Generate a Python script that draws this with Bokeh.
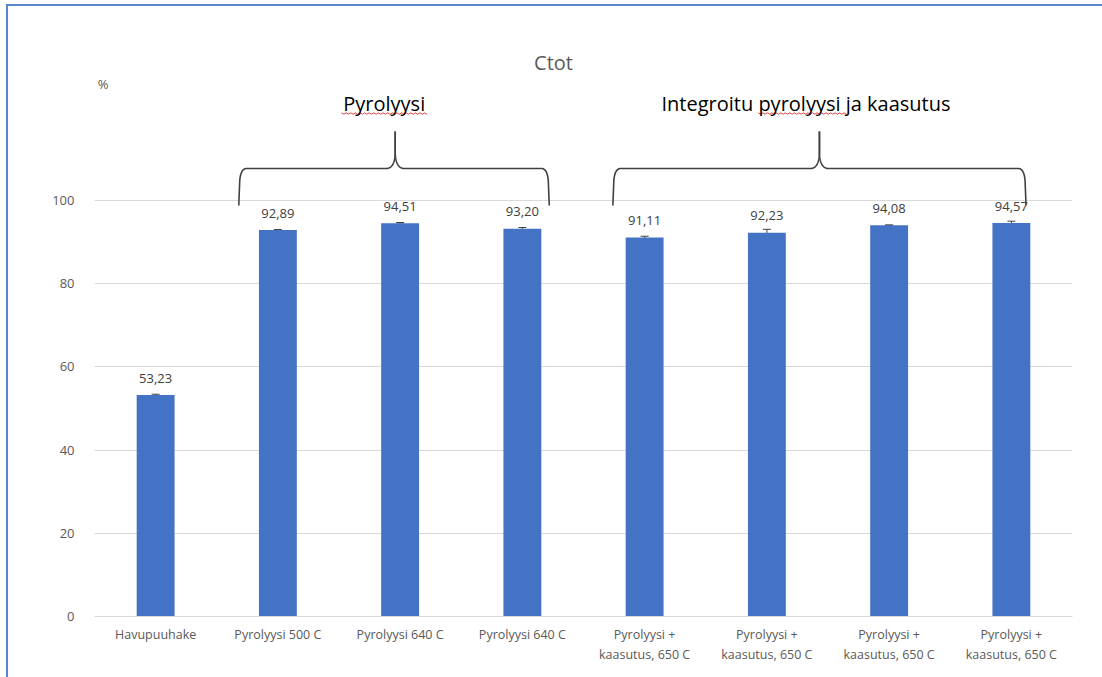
import numpy as np
from bokeh.plotting import figure
from bokeh.models import (ColumnDataSource, Range1d, FixedTicker, Whisker, TeeHead,
                          Label)
from bokeh.core.properties import value
from bokeh.embed import file_html
from bokeh.resources import INLINE

# --- data -------------------------------------------------------------
categories = [
    "Havupuuhake",
    "Pyrolyysi 500 C",
    "Pyrolyysi 640 C",
    "Pyrolyysi 640 C",
    "Pyrolyysi +\nkaasutus, 650 C",
    "Pyrolyysi +\nkaasutus, 650 C",
    "Pyrolyysi +\nkaasutus, 650 C",
    "Pyrolyysi +\nkaasutus, 650 C",
]
ctot = [53.23, 92.89, 94.51, 93.20, 91.11, 92.23, 94.08, 94.57]
ctot_err = [0.20, 0.15, 0.20, 0.30, 0.30, 0.85, 0.05, 0.45]
y_ticks = [0, 20, 40, 60, 80, 100]
group_names = ["Pyrolyysi", "Integroitu pyrolyysi ja kaasutus"]

# --- layout constants ---------------------------------------------------
W, H = 1102, 677
BL, BR, BT, BB = 94, 30, 10, 61
PX_X = (W - BL - BR) / len(categories)      # pixels per category
PX_Y = 4.16                                  # pixels per percent
Y_END = (H - BT - BB) / PX_Y

FONT = "Open Sans"
GRAY = "#595959"
DARK = "#404040"
BAR = "#4472C4"
EDGE = "#5A86CF"

xs = [i + 0.5 for i in range(len(categories))]
src = ColumnDataSource(dict(
    x=xs,
    ctot=ctot,
    upper=[v + e for v, e in zip(ctot, ctot_err)],
    lower=[v - e for v, e in zip(ctot, ctot_err)],
    label=[f"{v:.2f}".replace(".", ",") for v in ctot],
))

p = figure(width=W, height=H, output_backend="svg", toolbar_location=None,
           x_range=Range1d(0, len(categories)), y_range=Range1d(0, Y_END),
           min_border_left=BL, min_border_right=BR,
           min_border_top=BT, min_border_bottom=BB)
p.outline_line_color = None
p.background_fill_color = "white"
p.border_fill_color = None
# thin blue edge along the top and left of the chart object
p.styles = {
    "background-color": "white",
    "box-shadow": f"inset 6px 4px 0 0 white, inset 8px 6px 0 0 {EDGE}",
}

# bars, error bars and value labels
p.vbar(x="x", top="ctot", width=0.31, bottom=0, source=src,
       fill_color=BAR, line_color=None)
p.add_layout(Whisker(base="x", upper="upper", lower="lower", source=src,
                     line_color=DARK, line_width=1,
                     upper_head=TeeHead(size=8, line_color=DARK, line_width=1),
                     lower_head=TeeHead(size=8, line_color=DARK, line_width=1)))
p.text(x="x", y="ctot", text="label", source=src, text_align="center",
       text_baseline="middle", y_offset=-17, text_font=value(FONT),
       text_font_size="13px", text_color=DARK)

# axes
p.xgrid.visible = False
p.ygrid.grid_line_color = "#D9D9D9"
p.yaxis.ticker = FixedTicker(ticks=y_ticks)
p.ygrid.ticker = FixedTicker(ticks=y_ticks)
p.yaxis.axis_line_color = None
p.yaxis.major_tick_line_color = None
p.yaxis.minor_tick_line_color = None
p.yaxis.major_label_standoff = 14
p.yaxis.major_label_text_font = FONT
p.yaxis.major_label_text_font_size = "13px"
p.yaxis.major_label_text_color = GRAY

p.xaxis.ticker = FixedTicker(ticks=xs)
p.xaxis.major_label_overrides = {x: c for x, c in zip(xs, categories)}
p.xaxis.axis_line_color = "#D9D9D9"
p.xaxis.major_tick_line_color = None
p.xaxis.minor_tick_line_color = None
p.xaxis.major_label_standoff = 3
p.xaxis.major_label_text_font = FONT
p.xaxis.major_label_text_font_size = "12.5px"
p.xaxis.major_label_text_color = GRAY
p.xaxis.major_label_text_line_height = 1.2


def quad(p0, c, p1, n=24):
    t = np.linspace(0, 1, n)[:, None]
    pts = (1 - t) ** 2 * np.array(p0) + 2 * (1 - t) * t * np.array(c) + t ** 2 * np.array(p1)
    return pts


def brace(x0, x1, xp, yb, yh, yt):
    """Horizontal curly brace from x0 to x1 with its tip at xp."""
    dx, dy = 1 / PX_X, 1 / PX_Y
    left = [np.array([[x0, yb], [x0 + 1 * dx, yh - 12 * dy]]),
            quad((x0 + 1 * dx, yh - 12 * dy), (x0 + 2 * dx, yh), (x0 + 8 * dx, yh)),
            quad((xp - 9 * dx, yh), (xp - 1 * dx, yh), (xp, yh + 14 * dy)),
            np.array([[xp, yt]])]
    right = [np.array([[xp, yt]]),
             quad((xp, yh + 14 * dy), (xp + 1 * dx, yh), (xp + 9 * dx, yh)),
             quad((x1 - 8 * dx, yh), (x1 - 2 * dx, yh), (x1 - 1 * dx, yh - 12 * dy)),
             np.array([[x1, yb]])]
    return np.vstack(left), np.vstack(right)


braces = [(1.18, 3.72, 2.46), (4.24, 7.62, 5.93)]
for x0, x1, xp in braces:
    for seg in brace(x0, x1, xp, 98.8, 107.7, 116.6):
        p.line(seg[:, 0], seg[:, 1], line_color=DARK, line_width=1.6)

# group headings
for name, cx in zip(group_names, [2.37, 5.82]):
    p.add_layout(Label(x=cx, y=123.3, text=name, text_align="center",
                       text_baseline="middle", text_font=FONT,
                       text_font_size="20px", text_color="black"))

# spell-check squiggles under the group headings
for a, b in [(2.02, 2.72), (5.43, 6.15)]:
    n = int((b - a) * PX_X / 2.2)
    sx = np.linspace(a, b, n)
    sy = 120.9 + np.where(np.arange(n) % 2 == 0, 0.7, -0.7) / PX_Y
    p.line(sx, sy, line_color="#E04040", line_width=1)

# title and unit
p.add_layout(Label(x=3.755, y=133.2, text="Ctot", text_align="center",
                   text_baseline="middle", text_font=FONT,
                   text_font_size="20px", text_color=GRAY))
p.add_layout(Label(x=0.07, y=128.1, text="%", text_align="center",
                   text_baseline="middle", text_font=FONT,
                   text_font_size="13px", text_color=GRAY))

open("out.html", "w").write(file_html(p, INLINE))
